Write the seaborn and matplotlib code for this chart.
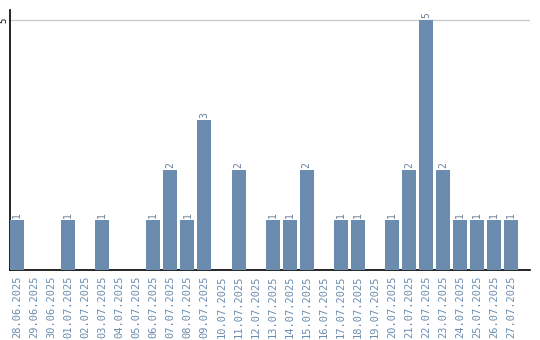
import matplotlib
matplotlib.use("Agg")
import matplotlib.pyplot as plt
import seaborn as sns
import pandas as pd

dates = ["28.06.2025", "29.06.2025", "30.06.2025", "01.07.2025", "02.07.2025",
         "03.07.2025", "04.07.2025", "05.07.2025", "06.07.2025", "07.07.2025",
         "08.07.2025", "09.07.2025", "10.07.2025", "11.07.2025", "12.07.2025",
         "13.07.2025", "14.07.2025", "15.07.2025", "16.07.2025", "17.07.2025",
         "18.07.2025", "19.07.2025", "20.07.2025", "21.07.2025", "22.07.2025",
         "23.07.2025", "24.07.2025", "25.07.2025", "26.07.2025", "27.07.2025"]
counts = [1, 0, 0, 1, 0, 1, 0, 0, 1, 2, 1, 3, 0, 2, 0, 1, 1, 2, 0, 1, 1, 0, 1, 2, 5, 2, 1, 1, 1, 1]

df = pd.DataFrame({"date": dates, "count": counts})
bar_color = "#6b8cae"
text_color = "#6b8cae"
value_color = "#6a7f99"

sns.set_style("white")
plt.rcParams["font.family"] = ["DejaVu Sans Mono"]

fig = plt.figure(figsize=(5.4, 3.4), dpi=100)
ax = fig.add_axes([10/540, 70/340, 520/540, 260/340])
sns.barplot(data=df, x="date", y="count", color=bar_color, width=0.82,
            saturation=1, linewidth=0, ax=ax, zorder=3)

for i, v in enumerate(counts):
    if v > 0:
        ax.text(i, v + 0.05, str(v), rotation=90, ha="center", va="bottom",
                fontsize=7, color=value_color)

ax.set_ylim(0, 5.2)
ax.set_xlim(-0.41, 30.1)
ax.set_yticks([5])
ax.set_yticklabels(["5"], rotation=90, va="center", fontsize=6.5, color="black")
ax.axhline(5, color="#cccccc", lw=1, zorder=1)
ax.tick_params(axis="y", length=0, pad=1)
ax.tick_params(axis="x", length=0, pad=4)
ax.set_xticks(range(len(dates)))
ax.set_xticklabels(dates, rotation=90, fontsize=7.5, color=text_color)
ax.set_xlabel("")
ax.set_ylabel("")
for s in ["top", "right"]:
    ax.spines[s].set_visible(False)
ax.spines["left"].set_color("black")
ax.spines["bottom"].set_color("black")
ax.spines["left"].set_linewidth(1.2)
ax.spines["bottom"].set_linewidth(1.2)

fig.savefig("out.png", dpi=100)
